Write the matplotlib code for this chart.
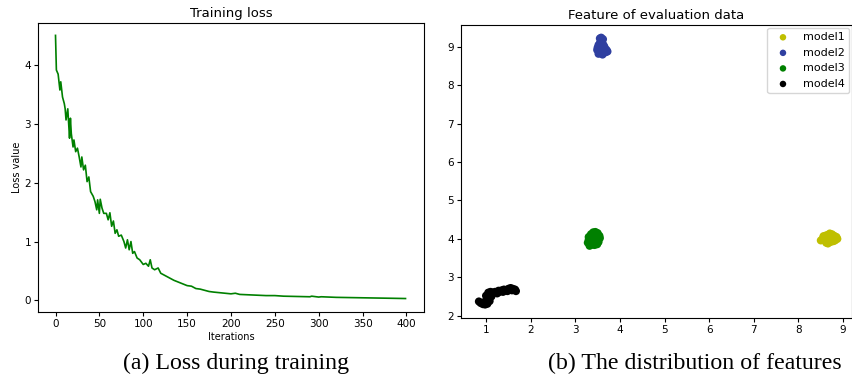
import matplotlib
matplotlib.use("Agg")
import matplotlib.pyplot as plt

# ---- training loss (iteration, loss) ----
loss_iter = [0, 1, 3, 5, 6, 8, 10, 11, 12, 14, 15, 16, 17, 18, 20, 21, 23, 25,
             27, 29, 30, 32, 34, 36, 38, 40, 43, 45, 47, 48, 50, 51, 53, 55,
             58, 60, 62, 64, 66, 68, 70, 72, 75, 78, 80, 82, 84, 86, 88, 90,
             93, 96, 100, 103, 106, 108, 110, 113, 117, 120, 125, 130, 135,
             140, 145, 150, 155, 160, 165, 170, 175, 180, 190, 200, 205, 210,
             225, 240, 250, 260, 275, 290, 292, 300, 303, 320, 340, 360, 380, 399]
loss_value = [4.51, 3.92, 3.85, 3.58, 3.72, 3.46, 3.35, 3.26, 3.07, 3.26, 3.01,
              2.76, 3.10, 2.84, 2.61, 2.73, 2.53, 2.59, 2.44, 2.27, 2.44, 2.22,
              2.30, 2.02, 2.10, 1.85, 1.77, 1.68, 1.54, 1.71, 1.48, 1.72, 1.57,
              1.48, 1.48, 1.37, 1.49, 1.26, 1.35, 1.14, 1.20, 1.09, 1.11, 1.00,
              0.89, 1.03, 0.86, 1.00, 0.80, 0.83, 0.72, 0.69, 0.61, 0.63, 0.58,
              0.69, 0.55, 0.52, 0.55, 0.46, 0.42, 0.38, 0.34, 0.31, 0.28, 0.25,
              0.24, 0.20, 0.19, 0.17, 0.15, 0.14, 0.125, 0.11, 0.12, 0.10, 0.09,
              0.08, 0.08, 0.07, 0.065, 0.06, 0.07, 0.055, 0.06, 0.05, 0.045,
              0.04, 0.035, 0.03]

# ---- feature clusters (x, y) per model ----
model1_x = [8.50, 8.55, 8.60, 8.65, 8.70, 8.75, 8.80, 8.85, 8.87, 8.82, 8.78,
            8.72, 8.66, 8.62, 8.58, 8.68, 8.74, 8.64, 8.70, 8.80, 8.56, 8.76]
model1_y = [3.96, 4.02, 4.08, 4.06, 4.14, 4.12, 4.08, 4.05, 4.00, 3.96, 3.94,
            3.92, 3.88, 3.90, 3.97, 4.00, 4.03, 4.10, 3.96, 4.02, 4.07, 3.98]
model2_x = [3.55, 3.58, 3.62, 3.60, 3.56, 3.52, 3.50, 3.54, 3.58, 3.63, 3.66,
            3.70, 3.72, 3.68, 3.62, 3.57, 3.52, 3.49, 3.55, 3.60, 3.64, 3.58,
            3.53, 3.61]
model2_y = [9.22, 9.24, 9.20, 9.15, 9.12, 9.05, 8.98, 8.95, 9.00, 9.05, 8.98,
            8.92, 8.88, 8.86, 8.90, 8.85, 8.82, 8.92, 9.08, 9.10, 9.02, 8.93,
            9.00, 8.80]
model3_x = [3.30, 3.35, 3.40, 3.45, 3.50, 3.54, 3.52, 3.48, 3.44, 3.38, 3.32,
            3.28, 3.30, 3.36, 3.42, 3.47, 3.52, 3.55, 3.40, 3.45, 3.34, 3.49,
            3.38, 3.43]
model3_y = [4.05, 4.12, 4.17, 4.18, 4.15, 4.08, 4.00, 3.95, 3.88, 3.85, 3.82,
            3.90, 3.98, 4.02, 4.08, 4.06, 3.92, 4.02, 3.96, 3.99, 3.92, 3.86,
            4.10, 3.84]
model4_x = [0.84, 0.88, 0.93, 0.98, 1.03, 1.08, 1.02, 1.00, 1.05, 1.10, 1.15,
            1.20, 1.25, 1.30, 1.35, 1.40, 1.45, 1.50, 1.55, 1.60, 1.65, 1.67,
            1.58, 1.48, 1.38, 1.28, 1.12, 0.95]
model4_y = [2.37, 2.33, 2.30, 2.29, 2.31, 2.38, 2.45, 2.52, 2.60, 2.62, 2.60,
            2.62, 2.58, 2.62, 2.66, 2.68, 2.66, 2.70, 2.72, 2.70, 2.68, 2.64,
            2.66, 2.64, 2.62, 2.65, 2.50, 2.35]

models = ["model1", "model2", "model3", "model4"]
colors = ["#bfbf00", "#2f3fa0", "#008000", "#000000"]
xs = [model1_x, model2_x, model3_x, model4_x]
ys = [model1_y, model2_y, model3_y, model4_y]

fig = plt.figure(figsize=(8.53, 3.81), dpi=100)

# left panel: loss curve
ax1 = fig.add_axes([0.0445, 0.181, 0.4525, 0.7585])
ax1.plot(loss_iter, loss_value, color="#008000", linewidth=1.2)
ax1.set_xlim(-20, 420)
ax1.set_ylim(-0.2, 4.72)
ax1.set_title("Training loss", fontsize=9.5, pad=4)
ax1.set_xlabel("Iterations", fontsize=7, labelpad=2)
ax1.set_ylabel("Loss value", fontsize=7, labelpad=2)
ax1.tick_params(labelsize=7.5, length=3, pad=2)

# right panel: feature scatter
ax2 = fig.add_axes([0.5405, 0.1654, 0.4584, 0.769])
for name, c, x, y in zip(models, colors, xs, ys):
    ax2.scatter(x, y, s=34, color=c, label=name, edgecolors="none")
ax2.set_xlim(0.44, 9.2)
ax2.set_ylim(1.94, 9.57)
ax2.set_title("Feature of evaluation data", fontsize=9.5, pad=4)
ax2.tick_params(labelsize=7.5, length=3, pad=2)
ax2.legend(loc="upper right", fontsize=8, markerscale=0.8, handletextpad=0.8,
           borderaxespad=0.25)

# captions
fig.text(0.277, 0.045, "(a) Loss during training", ha="center", va="center",
         fontsize=17.2, family="Liberation Serif")
fig.text(0.815, 0.045, "(b) The distribution of features", ha="center",
         va="center", fontsize=17.2, family="Liberation Serif")

fig.savefig("out.png", dpi=100)
